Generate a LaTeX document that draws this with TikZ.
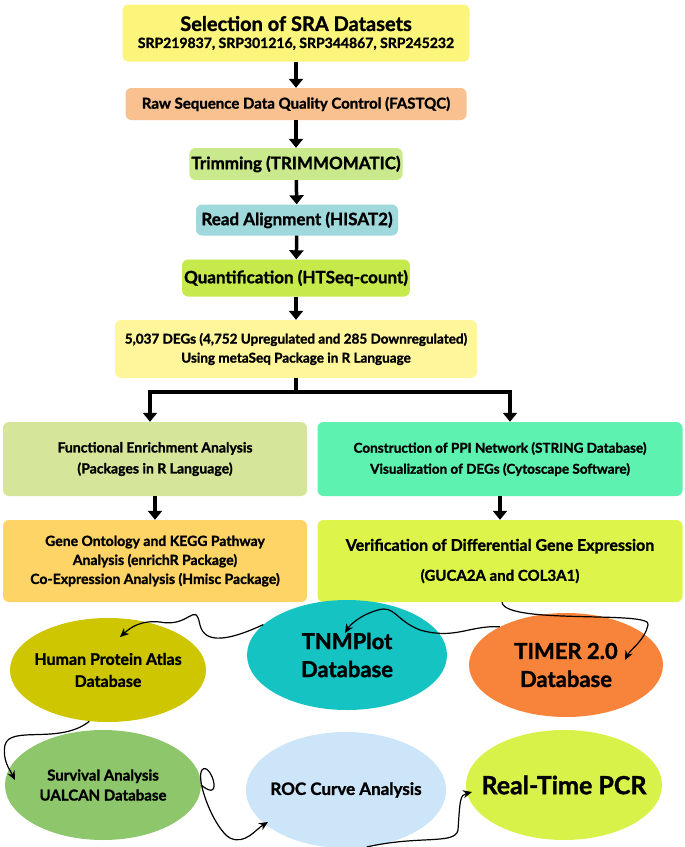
\documentclass[tikz,border=0pt]{standalone}
\usepackage{fontspec}
\setmainfont{Lato}[BoldFeatures={FakeBold=1.3}]
\usetikzlibrary{arrows.meta, positioning, shapes.geometric}
\definecolor{cYel}{HTML}{FBF57C}
\definecolor{cPeach}{HTML}{F9C190}
\definecolor{cTrim}{HTML}{C9E98C}
\definecolor{cAlign}{HTML}{A0D9DC}
\definecolor{cQuant}{HTML}{C6E94C}
\definecolor{cDeg}{HTML}{FFF59A}
\definecolor{cFunc}{HTML}{D5E69B}
\definecolor{cPPI}{HTML}{5EF2B0}
\definecolor{cGO}{HTML}{FFD466}
\definecolor{cVer}{HTML}{DDF54A}
\definecolor{cHPA}{HTML}{CDC600}
\definecolor{cTNM}{HTML}{15C3C3}
\definecolor{cTIM}{HTML}{F8833A}
\definecolor{cSurv}{HTML}{8DC66B}
\definecolor{cROC}{HTML}{CCE5F9}
\definecolor{cPCR}{HTML}{D9F24A}

\begin{document}
\begin{tikzpicture}[x=1pt,y=-1pt,font=\bfseries]
    \tikzstyle{stage}=[rectangle,rounded corners=6pt,inner sep=2pt,align=center,font=\bfseries\fontsize{15}{18}\selectfont]
    \tikzstyle{blob}=[ellipse,inner xsep=-60pt,inner ysep=-30pt,align=center]
    \tikzstyle{flow}=[line width=3.5pt,-{Triangle[width=14pt,length=9pt]}]
    \tikzstyle{wave}=[line width=1.2pt,-{Stealth[width=8pt,length=9pt]}]
    \useasboundingbox (0,0) rectangle (685,847);

    % Pipeline boxes
    \node[stage,fill=cYel,minimum width=347pt,minimum height=57pt] (sra) at (296,33)
        {{\fontsize{20}{24}\selectfont Selection of SRA Datasets}\\[-1pt]
         {\fontsize{14}{16}\selectfont SRP219837, SRP301216, SRP344867, SRP245232}};
    \node[stage,fill=cPeach,minimum width=341pt,minimum height=32pt] (qc) at (296,104)
        {Raw Sequence Data Quality Control (FASTQC)};
    \node[stage,fill=cTrim,minimum width=208pt,minimum height=32pt] (trim) at (296,164)
        {\fontsize{17}{20}\selectfont Trimming (TRIMMOMATIC)};
    \node[stage,fill=cAlign,minimum width=202pt,minimum height=31pt] (align) at (297,220)
        {\fontsize{17}{20}\selectfont Read Alignment (HISAT2)};
    \node[stage,fill=cQuant,minimum width=207pt,minimum height=37pt] (quant) at (296,278)
        {\fontsize{17}{20}\selectfont Quantification (HTSeq-count)};
    \node[stage,fill=cDeg,minimum width=362pt,minimum height=58pt,font=\bfseries\fontsize{13.5}{19}\selectfont] (deg) at (296,349)
        {5,037 DEGs (4,752 Upregulated and 285 Downregulated)\\Using metaSeq Package in R Language};

    % Two branches
    \node[stage,fill=cFunc,minimum width=304pt,minimum height=74pt,font=\bfseries\fontsize{14}{21}\selectfont] (func) at (155,459)
        {Functional Enrichment Analysis\\(Packages in R Language)};
    \node[stage,fill=cPPI,minimum width=365pt,minimum height=74pt,font=\bfseries\fontsize{13.5}{21}\selectfont] (ppi) at (500,459)
        {Construction of PPI Network (STRING Database)\\Visualization of DEGs (Cytoscape Software)};
    \node[stage,fill=cGO,minimum width=304pt,minimum height=82pt,font=\bfseries\fontsize{14}{19}\selectfont] (go) at (155,561)
        {Gene Ontology and KEGG Pathway\\Analysis (enrichR Package)\\Co-Expression Analysis (Hmisc Package)};
    \node[stage,fill=cVer,minimum width=365pt,minimum height=82pt,font=\bfseries\fontsize{16}{30}\selectfont] (ver) at (500,561)
        {Verification of Differential Gene Expression\\{\fontsize{15}{18}\selectfont (GUCA2A and COL3A1)}};

    % Databases
    \node[blob,fill=cHPA,minimum width=196pt,minimum height=104pt,font=\bfseries\fontsize{16}{22}\selectfont] (hpa) at (108,670)
        {Human Protein Atlas\\Database};
    \node[blob,fill=cTNM,minimum width=200pt,minimum height=110pt,font=\bfseries\fontsize{22}{28}\selectfont] (tnm) at (347,655)
        {TNMPlot\\Database};
    \node[blob,fill=cTIM,minimum width=194pt,minimum height=104pt,font=\bfseries\fontsize{22}{28}\selectfont] (tim) at (566,665)
        {TIMER 2.0\\Database};
    \node[blob,fill=cSurv,minimum width=196pt,minimum height=110pt,font=\bfseries\fontsize{15}{20}\selectfont] (surv) at (103,785)
        {Survival Analysis\\UALCAN Database};
    \node[blob,fill=cROC,minimum width=200pt,minimum height=116pt,font=\bfseries\fontsize{17}{20}\selectfont] (roc) at (346,790)
        {ROC Curve Analysis};
    \node[blob,fill=cPCR,minimum width=196pt,minimum height=110pt,font=\bfseries\fontsize{25}{30}\selectfont] (pcr) at (564,785)
        {Real-Time PCR};

    % Straight flow
    \draw[flow] (sra) -- (qc);
    \draw[flow] (qc) -- (trim);
    \draw[flow] (trim) -- (align);
    \draw[flow] (align) -- (quant);
    \draw[flow] (quant) -- (deg);
    \coordinate (split) at (296,392);
    \draw[line width=3.5pt] (deg) -- (split);
    \draw[flow] (split) -| ([xshift=-5pt]func.north);
    \draw[flow] (split) -| ([xshift=10pt]ppi.north);
    \draw[flow] (func) -- (go);
    \draw[flow] (ppi) -- (ver);

    % Wavy links
    \draw[wave] ([xshift=2pt]ver.south) .. controls (505,625) and (655,610) .. (648,625)
        .. controls (645,640) and (630,650) .. (625,660);
    \draw[wave] (tim.150) .. controls (470,625) and (455,640) .. (420,630)
        .. controls (395,620) and (395,605) .. (378,610) .. controls (360,615) and (350,625) .. (345,633);
    \draw[wave] (tnm.160) .. controls (230,640) and (205,645) .. (200,625)
        .. controls (195,600) and (190,628) .. (160,622) .. controls (140,620) and (130,628) .. (120,637);
    \draw[wave] (hpa.250) .. controls (60,745) and (10,725) .. (5,745)
        .. controls (2,760) and (10,770) .. (15,780);
    \draw[wave] (surv.east) .. controls (225,805) and (210,760) .. (202,770)
        .. controls (195,780) and (215,830) .. (230,838) .. controls (245,845) and (255,830) .. (268,822);
    \draw[wave] (roc.290) .. controls (420,835) and (455,845) .. (458,830)
        .. controls (460,800) and (460,795) .. (472,792);
\end{tikzpicture}
\end{document}
